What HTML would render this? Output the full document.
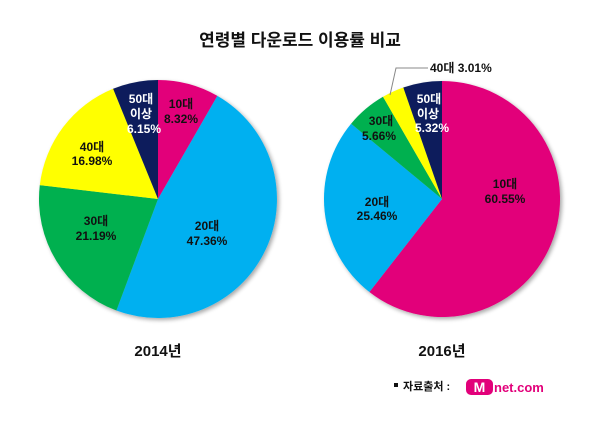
<!DOCTYPE html>
<html><head><meta charset="utf-8"><style>
html,body{margin:0;padding:0;background:#fff;width:600px;height:433px;overflow:hidden}
svg{display:block}
text{font-family:"Liberation Sans","Noto Sans CJK KR","NanumGothic",sans-serif;font-weight:bold}
</style></head><body>
<svg width="600" height="433" viewBox="0 0 600 433" xmlns="http://www.w3.org/2000/svg">
<defs><filter id="sh" x="-10%" y="-10%" width="130%" height="130%"><feGaussianBlur in="SourceAlpha" stdDeviation="2"/><feOffset dx="2" dy="2"/><feComponentTransfer><feFuncA type="linear" slope="0.35"/></feComponentTransfer><feMerge><feMergeNode/><feMergeNode in="SourceGraphic"/></feMerge></filter></defs>
<text x="300" y="46" font-size="17" text-anchor="middle" fill="#111">연령별 다운로드 이용률 비교</text>
<g filter="url(#sh)">
<path d="M158,199L158,80A119,119 0 0 1 217.4,95.9Z" fill="#E2007A"/>
<path d="M158,199L217.4,95.9A119,119 0 0 1 116.4,310.5Z" fill="#00B0F0"/>
<path d="M158,199L116.4,310.5A119,119 0 0 1 39.8,185.1Z" fill="#00B050"/>
<path d="M158,199L39.8,185.1A119,119 0 0 1 113.1,88.8Z" fill="#FFFF00"/>
<path d="M158,199L113.1,88.8A119,119 0 0 1 158,80Z" fill="#0B1F5C"/>
</g>
<g filter="url(#sh)">
<path d="M442,199L442,81A118,118 0 1 1 369.4,292Z" fill="#E2007A"/>
<path d="M442,199L369.4,292A118,118 0 0 1 351.1,123.7Z" fill="#00B0F0"/>
<path d="M442,199L351.1,123.7A118,118 0 0 1 383,96.8Z" fill="#00B050"/>
<path d="M442,199L383,96.8A118,118 0 0 1 403.3,87.5Z" fill="#FFFF00"/>
<path d="M442,199L403.3,87.5A118,118 0 0 1 442,81Z" fill="#0B1F5C"/>
</g>
<g font-size="12" text-anchor="middle" fill="#111">
<text x="181" y="108">10대</text><text x="181" y="123">8.32%</text>
<text x="141" y="103" fill="#fff">50대</text><text x="141" y="118" fill="#fff">이상</text><text x="144" y="133" fill="#fff">6.15%</text>
<text x="92" y="151">40대</text><text x="92" y="165">16.98%</text>
<text x="96" y="225">30대</text><text x="96" y="240">21.19%</text>
<text x="207" y="230">20대</text><text x="207" y="245">47.36%</text>
<text x="505" y="188">10대</text><text x="505" y="203">60.55%</text>
<text x="377" y="206">20대</text><text x="377" y="220">25.46%</text>
<text x="381" y="125">30대</text><text x="379" y="140">5.66%</text>
<text x="429" y="103" fill="#fff">50대</text><text x="428" y="118" fill="#fff">이상</text><text x="432" y="132" fill="#fff">5.32%</text>
<text x="430" y="72" text-anchor="start">40대 3.01%</text>
</g>
<polyline points="390,95 396,68 428,68" fill="none" stroke="#888" stroke-width="1"/>
<text x="158" y="356" font-size="15" text-anchor="middle" fill="#111">2014년</text>
<text x="442" y="356" font-size="15" text-anchor="middle" fill="#111">2016년</text>
<rect x="394" y="383" width="4" height="4" fill="#111"/>
<text x="403" y="390" font-size="11" fill="#111">자료출처 :</text>
<rect x="466" y="379" width="27" height="16" rx="5" fill="#E2007A"/>
<text x="479.5" y="392" font-size="14" text-anchor="middle" fill="#fff">M</text>
<text x="494" y="392" font-size="13" fill="#E2007A">net.com</text>
</svg>
</body></html>
